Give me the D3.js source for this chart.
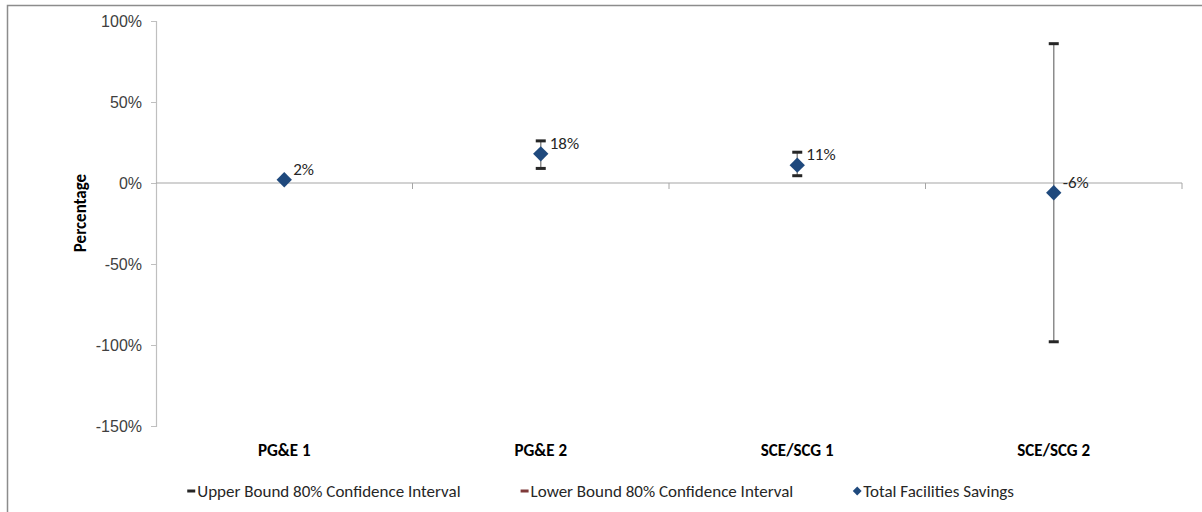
<!DOCTYPE html>
<html>
<head>
<meta charset="utf-8">
<script src="https://cdn.jsdelivr.net/npm/d3@7"></script>
<style>
  html, body { margin: 0; padding: 0; background: #fff; }
  svg { display: block; font-family: Carlito, Calibri, Lato, "Liberation Sans", sans-serif; }
  .tick text { fill: #404040; }
</style>
</head>
<body>
<svg id="chart" width="1202" height="512"></svg>
<script>
// values (fractions)
const categories = ['PG&E 1', 'PG&E 2', 'SCE/SCG 1', 'SCE/SCG 2'];
const savings = [0.02, 0.18, 0.11, -0.06];
const upperBound = [null, 0.26, 0.19, 0.86];
const lowerBound = [null, 0.09, 0.045, -0.98];
const yTicks = [-1.5, -1, -0.5, 0, 0.5, 1];
const legendLabels = ['Upper Bound 80% Confidence Interval', 'Lower Bound 80% Confidence Interval', 'Total Facilities Savings'];

const width = 1202;
const height = 512;
const plot = { left: 156, right: 1182, top: 21, bottom: 426 };
const fontSize = 17;
const blue = '#1f497d';
// Excel-style percent with a plain hyphen
const pct = v => d3.format('.0%')(v).replace('\u2212', '-');

const svg = d3.select('#chart');

// chart frame (cut off at the right and bottom in the reference)
svg.append('path')
    .attr('d', `M7.5,${height + 2} V5.5 H${width + 2}`)
    .attr('fill', 'none')
    .attr('stroke', '#8c8c8c')
    .attr('stroke-width', 1.5);

const x = d3.scaleBand()
    .domain(categories)
    .range([plot.left, plot.right]);

const y = d3.scaleLinear()
    .domain([-1.5, 1])
    .range([plot.bottom, plot.top]);

// y axis
const yAxis = svg.append('g')
    .attr('transform', `translate(${plot.left},0)`)
    .call(d3.axisLeft(y)
        .tickValues(yTicks)
        .tickSize(5)
        .tickPadding(9)
        .tickFormat(pct));
yAxis.select('.domain').attr('stroke', '#bfbfbf').attr('stroke-width', 1.2);
yAxis.selectAll('.tick line').attr('stroke', '#bfbfbf');
yAxis.selectAll('.tick text')
    .attr('font-size', 16)
    .attr('font-family', null);

// x axis drawn at zero, labels kept low at the bottom of the plot
const xAxis = svg.append('g')
    .attr('transform', `translate(0,${y(0)})`);
xAxis.append('line')
    .attr('x1', plot.left).attr('x2', plot.right)
    .attr('stroke', '#a6a6a6').attr('stroke-width', 1.2);
const xTickPos = categories.map(c => x(c) + x.bandwidth());
xAxis.selectAll('line.tick')
    .data(xTickPos)
    .join('line')
    .attr('class', 'tick')
    .attr('x1', d => d).attr('x2', d => d)
    .attr('y1', 0).attr('y2', 6)
    .attr('stroke', '#a6a6a6');

svg.append('g')
    .selectAll('text')
    .data(categories)
    .join('text')
    .attr('x', d => x(d) + x.bandwidth() / 2)
    .attr('y', plot.bottom + 30)
    .attr('text-anchor', 'middle')
    .attr('font-size', fontSize)
    .attr('font-weight', 'bold')
    .attr('fill', '#000')
    .text(d => d);

// axis title
svg.append('text')
    .attr('transform', `translate(86,213) rotate(-90)`)
    .attr('text-anchor', 'middle')
    .attr('font-size', fontSize)
    .attr('font-weight', 'bold')
    .text('Percentage');

const rows = categories.map((c, i) => ({
    cat: c, value: savings[i], upper: upperBound[i], lower: lowerBound[i]
}));
const cx = d => x(d.cat) + x.bandwidth() / 2;
const withBounds = rows.filter(d => d.upper != null && d.lower != null);

// error bar stems
svg.append('g')
    .selectAll('line')
    .data(withBounds)
    .join('line')
    .attr('x1', cx).attr('x2', cx)
    .attr('y1', d => y(d.upper))
    .attr('y2', d => y(d.lower))
    .attr('stroke', '#8c8c8c')
    .attr('stroke-width', 1.5);

// bound markers (dash)
const dash = (g, key) => g.selectAll('rect')
    .data(withBounds)
    .join('rect')
    .attr('x', d => cx(d) - 5)
    .attr('y', d => y(d[key]) - 1.5)
    .attr('width', 10)
    .attr('height', 3)
    .attr('fill', '#262626');
svg.append('g').call(dash, 'upper');
svg.append('g').call(dash, 'lower');

// savings diamonds
const diamond = d3.symbol().type(d3.symbolDiamond2).size(150);
svg.append('g')
    .selectAll('path')
    .data(rows)
    .join('path')
    .attr('transform', d => `translate(${cx(d)},${y(d.value)})`)
    .attr('d', diamond)
    .attr('fill', blue);

// data labels
svg.append('g')
    .selectAll('text')
    .data(rows)
    .join('text')
    .attr('x', d => cx(d) + 9)
    .attr('y', d => y(d.value) - 11)
    .attr('dy', '0.35em')
    .attr('font-size', fontSize)
    .attr('fill', '#262626')
    .text(d => pct(d.value));

// legend
const legend = svg.append('g').attr('transform', `translate(0,491)`);
const legendColors = ['#262626', '#7f3a3a', blue];
const items = legend.selectAll('g')
    .data(legendLabels)
    .join('g');
items.append('text')
    .attr('x', 10)
    .attr('dy', '0.35em')
    .attr('font-size', fontSize)
    .attr('fill', '#262626')
    .text(d => d);
items.each(function (d, i) {
    const g = d3.select(this);
    if (i < 2) {
        g.append('rect').attr('x', 0).attr('y', -1.5).attr('width', 8).attr('height', 3)
            .attr('fill', legendColors[i]);
    } else {
        g.append('path').attr('transform', 'translate(4,0)')
            .attr('d', d3.symbol().type(d3.symbolDiamond2).size(50)).attr('fill', legendColors[i]);
    }
});
const gap = 60;
const widths = [];
items.each(function () { widths.push(this.getBBox().width); });
const total = d3.sum(widths) + gap * (widths.length - 1);
let pos = 601 - total / 2;
items.attr('transform', (d, i) => {
    const t = `translate(${pos},0)`;
    pos += widths[i] + gap;
    return t;
});
</script>
</body>
</html>
